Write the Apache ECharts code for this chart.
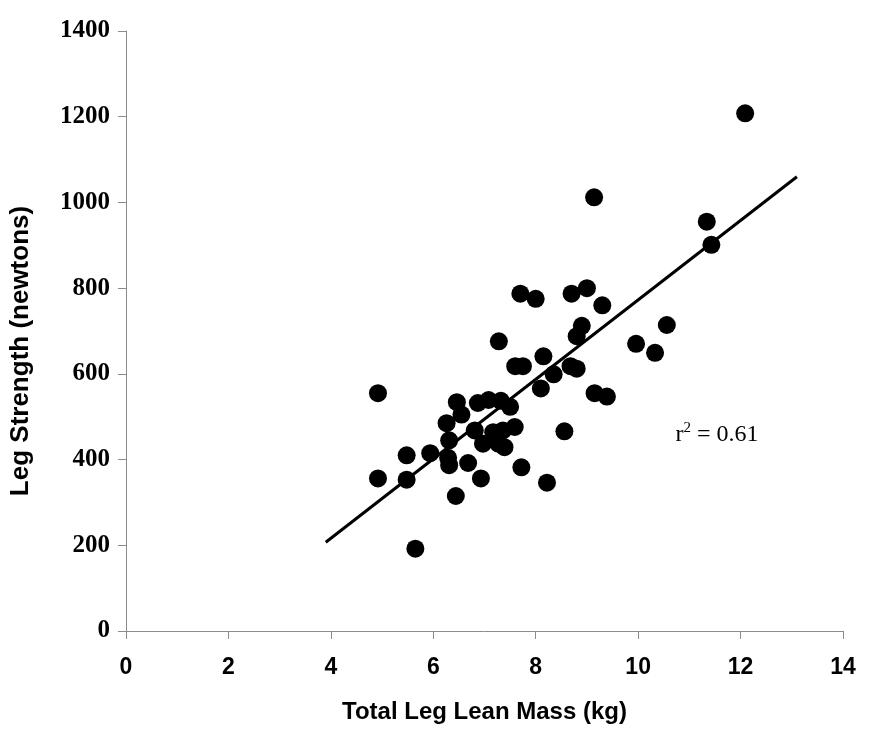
<!DOCTYPE html>
<html>
<head>
<meta charset="utf-8">
<script src="https://cdn.jsdelivr.net/npm/echarts@6/dist/echarts.min.js"></script>
<style>html,body{margin:0;padding:0;background:#fff;}#c{width:881px;height:738px;}</style>
</head>
<body>
<div id="c"></div>
<script>
var xTicks = [0, 2, 4, 6, 8, 10, 12, 14];
var yTicks = [0, 200, 400, 600, 800, 1000, 1200, 1400];
var leanMass = [4.92, 4.92, 5.48, 5.48, 5.65, 5.94, 6.26, 6.31, 6.29, 6.31, 6.44, 6.46, 6.55, 6.68, 6.81, 6.87, 6.97, 6.93, 7.08, 7.17, 7.27, 7.28, 7.32, 7.36, 7.39, 7.5, 7.59, 7.6, 7.72, 7.7, 7.75, 8.0, 8.1, 8.15, 8.22, 8.35, 8.56, 8.68, 8.7, 8.8, 8.8, 8.9, 9.0, 9.14, 9.15, 9.3, 9.39, 9.96, 10.33, 10.56, 11.34, 11.43, 12.09];
var strength = [555, 356, 410, 353, 192, 415, 485, 445, 404, 387, 315, 534, 505, 392, 468, 532, 437, 356, 539, 464, 437, 676, 537, 468, 429, 523, 476, 618, 382, 787, 618, 775, 566, 641, 346, 599, 466, 618, 787, 612, 688, 712, 800, 1012, 555, 760, 547, 670, 649, 714, 955, 901, 1208];
var fitX = [3.9, 13.1];
var fitY = [207, 1060];
var rLabelPos = [10.73, 431];

var points = leanMass.map(function (x, i) { return [x, strength[i]]; });
var fitLine = fitX.map(function (x, i) { return [x, fitY[i]]; });

var chart = echarts.init(document.getElementById('c'));
var axisCol = '#8c8c8c';
chart.setOption({
  animation: false,
  backgroundColor: '#fff',
  grid: { left: 122, right: 38, top: 31, bottom: 107 },
  xAxis: {
    type: 'value', min: 0, max: 14, interval: 2,
    name: 'Total Leg Lean Mass (kg)', nameLocation: 'middle', nameGap: 69,
    nameTextStyle: { fontFamily: 'Liberation Sans', fontWeight: 'bold', fontSize: 24, color: '#000' },
    axisLine: { show: true, lineStyle: { color: axisCol, width: 1 } },
    axisTick: { show: true, length: 8, lineStyle: { color: axisCol } },
    axisLabel: { margin: 25, fontFamily: 'Liberation Sans', fontWeight: 'bold', fontSize: 23, color: '#000',
      formatter: function (v) { return xTicks.indexOf(v) >= 0 ? String(v) : ''; } },
    splitLine: { show: false }
  },
  yAxis: {
    type: 'value', min: 0, max: 1400, interval: 200,
    name: 'Leg Strength (newtons)', nameLocation: 'middle', nameGap: 92,
    nameTextStyle: { fontFamily: 'Liberation Sans', fontWeight: 'bold', fontSize: 26, color: '#000', padding: [0, 40, 0, 0] },
    axisLine: { show: true, lineStyle: { color: axisCol, width: 1 } },
    axisTick: { show: true, length: 8, lineStyle: { color: axisCol } },
    axisLabel: { margin: 16, fontFamily: 'Liberation Serif', fontWeight: 'bold', fontSize: 25, color: '#000',
      formatter: function (v) { return yTicks.indexOf(v) >= 0 ? String(v) : ''; } },
    splitLine: { show: false }
  },
  series: [
    { type: 'line', data: fitLine, symbol: 'none', lineStyle: { color: '#000', width: 3 }, z: 1 },
    { type: 'scatter', data: points, symbol: 'circle', symbolSize: 18, itemStyle: { color: '#000', opacity: 1 }, z: 2 }
  ]
});

var p = chart.convertToPixel({ gridIndex: 0 }, rLabelPos);
chart.setOption({
  graphic: [{
    type: 'text', x: p[0], y: p[1],
    style: {
      text: '{a|r}{s|2}{a| = 0.61}',
      verticalAlign: 'bottom', align: 'left',
      rich: {
        a: { fontFamily: 'Liberation Serif', fontSize: 24, fill: '#000', lineHeight: 26, verticalAlign: 'bottom' },
        s: { fontFamily: 'Liberation Serif', fontSize: 15, fill: '#000', lineHeight: 26, verticalAlign: 'top', padding: [0, 0, 11, 0] }
      }
    }
  }]
});
</script>
</body>
</html>
